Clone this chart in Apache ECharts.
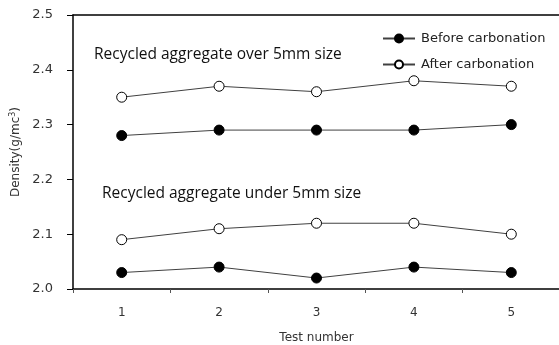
<!DOCTYPE html>
<html>
<head>
<meta charset="utf-8">
<script src="https://cdn.jsdelivr.net/npm/echarts@6/dist/echarts.min.js"></script>
<style>html,body{margin:0;padding:0;background:#fff}#c{width:559px;height:345px}</style>
</head>
<body>
<div id="c"></div>
<script>
var categories = ['1', '2', '3', '4', '5'];
var overAfter = [2.35, 2.37, 2.36, 2.38, 2.37];
var overBefore = [2.28, 2.29, 2.29, 2.29, 2.30];
var underAfter = [2.09, 2.11, 2.12, 2.12, 2.10];
var underBefore = [2.03, 2.04, 2.02, 2.04, 2.03];
var yTicks = [2.0, 2.1, 2.2, 2.3, 2.4, 2.5];
var seriesNames = ['Before carbonation', 'After carbonation'];
var notes = ['Recycled aggregate over 5mm size', 'Recycled aggregate under 5mm size'];

var chart = echarts.init(document.getElementById('c'), null, {renderer: 'canvas'});
var tickFont = 'Tahoma, "DejaVu Sans", Verdana, sans-serif';
var noteFont = '"Open Sans", Carlito, Calibri, sans-serif';

function mk(name, data, filled) {
  return {
    name: name, type: 'line', data: data,
    symbol: 'circle', symbolSize: 10,
    lineStyle: {color: '#404040', width: 1},
    itemStyle: {color: filled ? '#000' : '#fff', borderColor: '#000', borderWidth: 1},
    emphasis: {disabled: true},
    animation: false, z: filled ? 3 : 2
  };
}

chart.setOption({
  animation: false,
  grid: {left: 73, top: 15, width: 487, height: 274, containLabel: false, outerBoundsMode: 'none'},
  legend: {
    data: seriesNames,
    orient: 'vertical', left: 377, top: 27, itemWidth: 32, itemHeight: 10, itemGap: 13,
    textStyle: {fontFamily: tickFont, fontSize: 13, color: '#222', padding: [0, 0, 0, 1]},
    selectedMode: false
  },
  xAxis: [{
    type: 'category', data: categories, boundaryGap: true,
    axisLine: {lineStyle: {color: '#000', width: 1.5}},
    axisTick: {show: true, length: 4, lineStyle: {color: '#555'}},
    axisLabel: {fontFamily: tickFont, fontSize: 12, color: '#333', margin: 18},
    name: 'Test number', nameLocation: 'middle', nameGap: 43,
    nameTextStyle: {fontFamily: tickFont, fontSize: 12, color: '#333'}
  }, {
    type: 'category', data: categories, position: 'top',
    axisLine: {show: true, lineStyle: {color: '#000', width: 1.5}},
    axisTick: {show: false}, axisLabel: {show: false}
  }],
  yAxis: {
    type: 'value', min: yTicks[0], max: yTicks[yTicks.length - 1], interval: 0.1,
    axisLine: {show: true, lineStyle: {color: '#000', width: 1.5}},
    axisTick: {show: true, length: 6, lineStyle: {color: '#000'}},
    splitLine: {show: false},
    axisLabel: {fontFamily: tickFont, fontSize: 13, color: '#333', margin: 20,
      formatter: function (v) { return v.toFixed(1); }},
    name: 'Density(g/mc{sup|3})', nameLocation: 'middle', nameGap: 46, nameRotate: 90,
    nameTextStyle: {fontFamily: tickFont, fontSize: 12, color: '#333',
      rich: {sup: {fontFamily: tickFont, fontSize: 8, color: '#333', verticalAlign: 'top', padding: [0,0,6,0]}}}
  },
  graphic: [
    {type: 'text', left: 94, top: 47, style: {text: notes[0], font: '15.5px ' + noteFont, fill: '#111'}},
    {type: 'text', left: 102, top: 186, style: {text: notes[1], font: '15.5px ' + noteFont, fill: '#111'}}
  ],
  series: [
    mk(seriesNames[0], overBefore, true),
    mk(seriesNames[1], overAfter, false),
    mk(seriesNames[0], underBefore, true),
    mk(seriesNames[1], underAfter, false)
  ]
});
</script>
</body>
</html>
